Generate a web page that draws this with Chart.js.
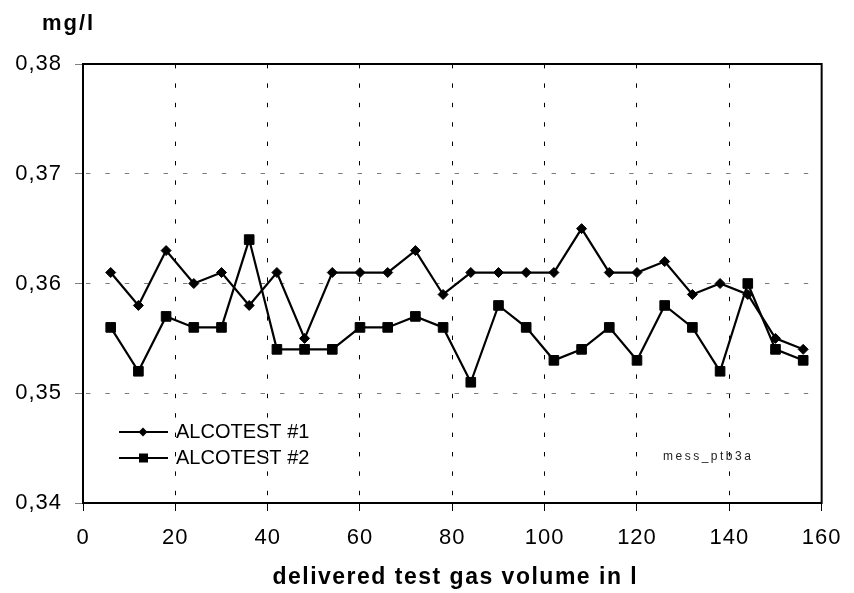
<!DOCTYPE html>
<html>
<head>
<meta charset="utf-8">
<script src="https://cdn.jsdelivr.net/npm/chart.js@4"></script>
<style>
html,body{margin:0;padding:0;background:#fff;}
#wrap{width:854px;height:593px;position:relative;}
</style>
</head>
<body>
<div id="wrap"><canvas id="c" width="854" height="593"></canvas></div>
<script>
const volumes = [6,12,18,24,30,36,42,48,54,60,66,72,78,84,90,96,102,108,114,120,126,132,138,144,150,156];
const alcotest1 = [0.361,0.358,0.363,0.360,0.361,0.358,0.361,0.355,0.361,0.361,0.361,0.363,0.359,0.361,0.361,0.361,0.361,0.365,0.361,0.361,0.362,0.359,0.360,0.359,0.355,0.354];
const alcotest2 = [0.356,0.352,0.357,0.356,0.356,0.364,0.354,0.354,0.354,0.356,0.356,0.357,0.356,0.351,0.358,0.356,0.353,0.354,0.356,0.353,0.358,0.356,0.352,0.360,0.354,0.353];
const seriesLabels = ['ALCOTEST #1','ALCOTEST #2'];
const yTitle = 'mg/l';
const xTitle = 'delivered test gas volume in l';
const noteText = 'mess_ptb3a';

const FONT = '"Liberation Sans", Arial, sans-serif';

const toPts = (arr) => arr.map((v,i)=>({x: volumes[i], y: v}));

const overlay = {
  id: 'overlay',
  beforeDraw(chart) {
    chart.ctx.letterSpacing = '1px';
  },
  afterDatasetsDraw(chart) {
    const {ctx, chartArea: a} = chart;
    ctx.save();
    ctx.letterSpacing = '0px';
    // frame
    ctx.strokeStyle = '#000';
    ctx.lineWidth = 2;
    ctx.setLineDash([]);
    ctx.strokeRect(a.left, a.top, a.right - a.left, a.bottom - a.top);
    // titles
    ctx.fillStyle = '#000';
    ctx.textBaseline = 'alphabetic';
    ctx.font = 'bold 22px ' + FONT;
    ctx.letterSpacing = '2px';
    ctx.textAlign = 'left';
    ctx.fillText(yTitle, 42, 30);
    ctx.font = 'bold 23px ' + FONT;
    ctx.letterSpacing = '1.5px';
    ctx.textAlign = 'center';
    ctx.fillText(xTitle, (a.left + a.right) / 2 + 3, 584);
    // note
    ctx.font = '12px ' + FONT;
    ctx.letterSpacing = '2.5px';
    ctx.textAlign = 'left';
    ctx.textBaseline = 'middle';
    ctx.fillStyle = '#222';
    ctx.fillText(noteText, 663, 457);
    // legend
    ctx.letterSpacing = '0px';
    ctx.font = '20px ' + FONT;
    ctx.fillStyle = '#000';
    const rows = [432, 458];
    chart.data.datasets.forEach((ds, i) => {
      const y = rows[i];
      ctx.strokeStyle = '#000';
      ctx.lineWidth = 2;
      ctx.beginPath();
      ctx.moveTo(119, y);
      ctx.lineTo(168, y);
      ctx.stroke();
      ctx.beginPath();
      if (ds.pointStyle === 'rectRot') {
        const r = 4.5;
        ctx.moveTo(143, y - r); ctx.lineTo(143 + r, y); ctx.lineTo(143, y + r); ctx.lineTo(143 - r, y);
        ctx.closePath();
      } else {
        ctx.rect(139, y - 4.5, 9, 9);
      }
      ctx.fill();
      ctx.textAlign = 'left';
      ctx.textBaseline = 'middle';
      ctx.fillText(ds.label, 176, y);
    });
    ctx.restore();
  }
};

new Chart(document.getElementById('c'), {
  type: 'line',
  data: {
    datasets: [
      {
        label: seriesLabels[0],
        data: toPts(alcotest1),
        borderColor: '#000',
        backgroundColor: '#000',
        borderWidth: 2.2,
        pointStyle: 'rectRot',
        pointRadius: 5,
        pointBorderWidth: 1,
        pointBackgroundColor: '#000',
        pointBorderColor: '#000',
        tension: 0,
        fill: false
      },
      {
        label: seriesLabels[1],
        data: toPts(alcotest2),
        borderColor: '#000',
        backgroundColor: '#000',
        borderWidth: 2.2,
        pointStyle: 'rect',
        pointRadius: 6.8,
        pointBorderWidth: 1,
        pointBackgroundColor: '#000',
        pointBorderColor: '#000',
        tension: 0,
        fill: false
      }
    ]
  },
  options: {
    responsive: false,
    animation: false,
    devicePixelRatio: 1,
    layout: { padding: { top: 64, right: 25, left: 0, bottom: 0 } },
    plugins: { legend: { display: false }, tooltip: { enabled: false } },
    scales: {
      x: {
        type: 'linear',
        min: 0, max: 160,
        afterFit(s) { s.height = 90; },
        ticks: { stepSize: 20, color: '#000', padding: 14, font: { family: FONT, size: 22 }, maxRotation: 0 },
        grid: { color: '#000', lineWidth: 1, drawTicks: true, tickLength: 8, tickColor: '#000', tickWidth: 1, tickBorderDash: [] },
        border: { display: false, dash: [4.4, 15], dashOffset: 0 }
      },
      y: {
        min: 0.34, max: 0.38,
        afterFit(s) { s.width = 83; },
        ticks: {
          stepSize: 0.01, color: '#000', padding: 13,
          font: { family: FONT, size: 22 },
          callback: (v) => Number(v).toFixed(2).replace('.', ',')
        },
        grid: { color: '#7a7a7a', lineWidth: 1, drawTicks: true, tickLength: 8, tickColor: '#808080', tickWidth: 1, tickBorderDash: [] },
        border: { display: false, dash: [4.4, 15], dashOffset: 16.4 }
      }
    }
  },
  plugins: [overlay]
});
</script>
</body>
</html>
